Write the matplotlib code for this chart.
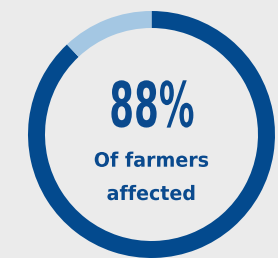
import matplotlib
matplotlib.use("Agg")
import matplotlib.pyplot as plt
from matplotlib import patheffects
from matplotlib.transforms import Affine2D

# donut values (percent)
labels = ["Affected", "Not affected"]
values = [88, 12]
colors = ["#034a8e", "#a4c7e3"]
headline = "88%"
caption = ["Of farmers", "affected"]

bg = "#ebebeb"
txt_col = "#0a4a8e"
W, H = 278, 258
cx, cy, R = 151.5, 134.5, 123.5


class Squeeze(patheffects.AbstractPathEffect):
    # narrows the glyphs horizontally around their own centre
    def __init__(self, sx):
        super().__init__()
        self.sx = sx

    def draw_path(self, renderer, gc, tpath, affine, rgbFace=None):
        ext = tpath.get_extents()
        mx = (ext.x0 + ext.x1) / 2
        t = Affine2D().translate(-mx, 0).scale(self.sx, 1).translate(mx, 0) + affine
        renderer.draw_path(gc, tpath, t, rgbFace)


fig = plt.figure(figsize=(W / 100, H / 100), dpi=100, facecolor=bg)
ax = fig.add_axes([0, 0, 1, 1])
ax.set_facecolor(bg)

ax.pie(values, colors=colors, startangle=90, counterclock=False, radius=1,
       wedgeprops=dict(width=17 / R, linewidth=0))

# map the unit circle onto the pixel layout of the reference
ax.set_aspect("auto")
ax.set_xlim(-cx / R, (W - cx) / R)
ax.set_ylim(-(H - cy) / R, cy / R)
ax.axis("off")


def py(y):
    return (cy - y) / R


ax.text(0, py(126.7), headline, ha="center", va="baseline",
        fontsize=45, fontweight="bold", color=txt_col, family="DejaVu Sans",
        path_effects=[Squeeze(0.57)])
ax.text(0, py(166.7), caption[0], ha="center", va="baseline",
        fontsize=14.3, fontweight="bold", color=txt_col, family="DejaVu Sans",
        path_effects=[Squeeze(0.96)])
ax.text(0, py(200), caption[1], ha="center", va="baseline",
        fontsize=14.3, fontweight="bold", color=txt_col, family="DejaVu Sans",
        path_effects=[Squeeze(0.96)])

fig.savefig("out.png", dpi=100, facecolor=bg)
